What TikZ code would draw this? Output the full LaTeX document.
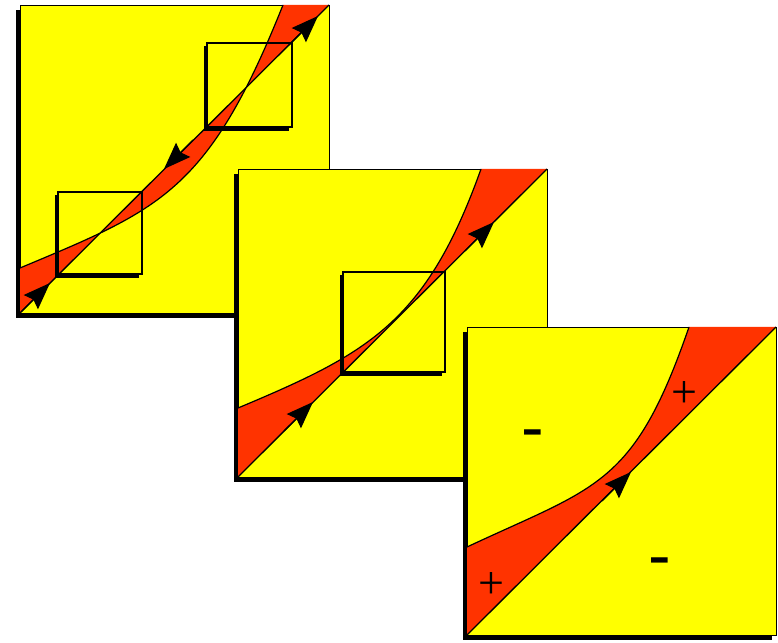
\documentclass[tikz,border=0pt]{standalone}
\usepackage{fontspec}
\newfontfamily\signfont{Liberation Sans}
\newfontfamily\plusfont{Liberation Serif}
\usetikzlibrary{arrows.meta}
\definecolor{panelyellow}{RGB}{255,255,0}
\definecolor{regionred}{RGB}{255,51,0}
\begin{document}
\begin{tikzpicture}[x=1pt,y=1pt,
  panelbox/.style={fill=panelyellow, draw=black, line width=0.8pt},
  panelshadow/.style={fill=black},
  region/.style={fill=regionred},
  curveline/.style={draw=black, line width=1.2pt},
  diagline/.style={draw=black, line width=1.3pt},
  arrowtip/.style={-{Stealth[length=27pt,width=20pt,inset=3.5pt]}, line width=1.3pt},
  zoombox/.style={draw=black, line width=1.5pt},
  zoomshadow/.style={draw=black, line width=3pt},
  plussign/.style={inner sep=0pt, font=\plusfont\fontsize{46}{46}\selectfont},
  minussign/.style={inner sep=0pt, font=\signfont\fontsize{68}{68}\selectfont},
]
\useasboundingbox (0,0) rectangle (778,642);

% ---------- panel 1 ----------
\begin{scope}[shift={(20,329)}]
  \fill[panelshadow] (-4,-5) rectangle (305,303);
  \path[panelbox] (0,0) rectangle (309,308);
  \fill[region] (0,0) -- (0,45) .. controls (140,103.8) and (188,120.5) .. (263,308) -- (309,308) -- cycle;
  \draw[curveline] (0,45) .. controls (140,103.8) and (188,120.5) .. (263,308);
  \draw[diagline] (0,0) -- (309,308);
  \draw[zoomshadow] (36.5,118) -- (36.5,36) -- (119,36);
  \draw[zoombox] (38,39) rectangle (122,121);
  \draw[zoomshadow] (185.5,267) -- (185.5,183) -- (269,183);
  \draw[zoombox] (187,186) rectangle (272,270);
  \coordinate (a1s) at (1,1);     \coordinate (a1t) at (30,30);
  \coordinate (a2s) at (173,173); \coordinate (a2t) at (144,144);
  \coordinate (a3s) at (269,268); \coordinate (a3t) at (298,297);
  \draw[arrowtip] (a1s) -- (a1t);
  \draw[arrowtip] (a2s) -- (a2t);
  \draw[arrowtip] (a3s) -- (a3t);
\end{scope}

% ---------- panel 2 ----------
\begin{scope}[shift={(238,165)}]
  \fill[panelshadow] (-4,-5) rectangle (305,303);
  \path[panelbox] (0,0) rectangle (309,308);
  \fill[region] (0,0) -- (0,69) .. controls (130,123.6) and (188,154) .. (243,308) -- (309,308) -- cycle;
  \draw[curveline] (0,69) .. controls (130,123.6) and (188,154) .. (243,308);
  \draw[diagline] (0,0) -- (309,308);
  \draw[zoomshadow] (103.5,202) -- (103.5,102) -- (204,102);
  \draw[zoombox] (105,105) rectangle (207,205);
  \coordinate (b1s) at (46,46);   \coordinate (b1t) at (75,75);
  \coordinate (b2s) at (227,226); \coordinate (b2t) at (256,255);
  \draw[arrowtip] (b1s) -- (b1t);
  \draw[arrowtip] (b2s) -- (b2t);
\end{scope}

% ---------- panel 3 ----------
\begin{scope}[shift={(467,7)}]
  \fill[panelshadow] (-4,-5) rectangle (305,303);
  \path[panelbox] (0,0) rectangle (309,308);
  \fill[region] (0,0) -- (0,88) .. controls (130,149) and (167,148.5) .. (222,308) -- (309,308) -- cycle;
  \draw[curveline] (0,88) .. controls (130,149) and (167,148.5) .. (222,308);
  \draw[diagline] (0,0) -- (309,308);
  \coordinate (c1s) at (135,134); \coordinate (c1t) at (164,163);
  \draw[arrowtip] (c1s) -- (c1t);
  \node[plussign] (plusA) at (217,240) {+};
  \node[plussign] (plusB) at (24,49) {+};
  \node[minussign] (minusA) at (66,195) {-};
  \node[minussign] (minusB) at (193,67) {-};
\end{scope}
\end{tikzpicture}
\end{document}
